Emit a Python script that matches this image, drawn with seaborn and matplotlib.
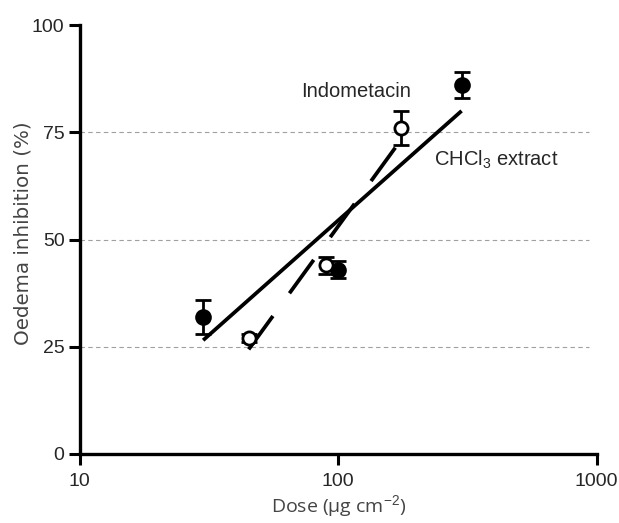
import numpy as np
import pandas as pd
import matplotlib
matplotlib.use("Agg")
import matplotlib.pyplot as plt
import seaborn as sns

# Data
indo_dose = [30, 100, 300]          # filled circles, solid fit
indo_inhib = [32, 43, 86]
indo_err = [4, 2, 3]

chcl3_dose = [45, 90, 175]          # open circles, dashed fit
chcl3_inhib = [27, 44, 76]
chcl3_err = [1, 2, 4]

y_ticks = [0, 25, 50, 75, 100]
x_ticks = [10, 100, 1000]
grid_levels = [25, 50, 75]

indo = pd.DataFrame({"dose": indo_dose, "inhib": indo_inhib})
chcl3 = pd.DataFrame({"dose": chcl3_dose, "inhib": chcl3_inhib})

sns.set_style("ticks")
plt.rcParams["font.family"] = ["Liberation Sans", "DejaVu Sans"]
plt.rcParams["mathtext.fontset"] = "custom"
plt.rcParams["mathtext.rm"] = "Liberation Sans"
plt.rcParams["mathtext.it"] = "Liberation Sans:italic"

fig = plt.figure(figsize=(6.19, 5.23), dpi=100)
ax = fig.add_axes([0.129, 0.132, 0.835, 0.820])
ax.set_xscale("log")

for lvl in grid_levels:
    ax.axhline(lvl, xmax=0.985, color="#a0a0a0", lw=0.8, ls=(0, (4, 3)), zorder=0)

# regression lines y ~ log(x)
sns.regplot(data=indo, x="dose", y="inhib", logx=True, ci=None, scatter=False,
            line_kws=dict(color="black", lw=2.7, solid_capstyle="butt"), ax=ax)
sns.regplot(data=chcl3, x="dose", y="inhib", logx=True, ci=None, scatter=False,
            line_kws=dict(color="black", lw=2.7, ls=(0, (11, 7.5)),
                          dash_capstyle="butt"), ax=ax)

# error bars
ax.errorbar(indo_dose, indo_inhib, yerr=indo_err, fmt="none", ecolor="black",
            elinewidth=2, capsize=6, capthick=2, zorder=3)
ax.errorbar(chcl3_dose, chcl3_inhib, yerr=chcl3_err, fmt="none", ecolor="black",
            elinewidth=2, capsize=6, capthick=2, zorder=3)

sns.scatterplot(data=indo, x="dose", y="inhib", s=110, color="black",
                edgecolor="black", linewidth=1.5, zorder=4, ax=ax)
sns.scatterplot(data=chcl3, x="dose", y="inhib", s=90, color="white",
                edgecolor="black", linewidth=2, zorder=4, ax=ax)

ax.text(72, 84.5, "Indometacin", fontsize=14.5, va="center", ha="left")
ax.text(235, 68.5, r"CHCl$_3$ extract", fontsize=14.5, va="center", ha="left")

ax.set_xlim(10, 1000)
ax.set_ylim(0, 100)
ax.set_xticks(x_ticks)
ax.set_xticklabels([str(t) for t in x_ticks])
ax.minorticks_off()
ax.set_yticks(y_ticks)
ax.tick_params(axis="both", labelsize=14, width=2.2, length=8, color="black")
ax.tick_params(axis="y", pad=3)
ax.tick_params(axis="x", pad=6)

for side in ["top", "right"]:
    ax.spines[side].set_visible(False)
for side in ["left", "bottom"]:
    ax.spines[side].set_linewidth(2.4)
    ax.spines[side].set_color("black")

ax.set_xlabel("Dose (\u03bcg cm$^{\u22122}$)", fontsize=14, color="#444444",
              family=["Open Sans", "DejaVu Sans"], labelpad=2)
ax.set_ylabel("Oedema inhibition (%)", fontsize=14.3, color="#444444",
              family=["DejaVu Sans"])
ax.yaxis.set_label_coords(-0.091, 0.515)

fig.savefig("out.png", dpi=100)
